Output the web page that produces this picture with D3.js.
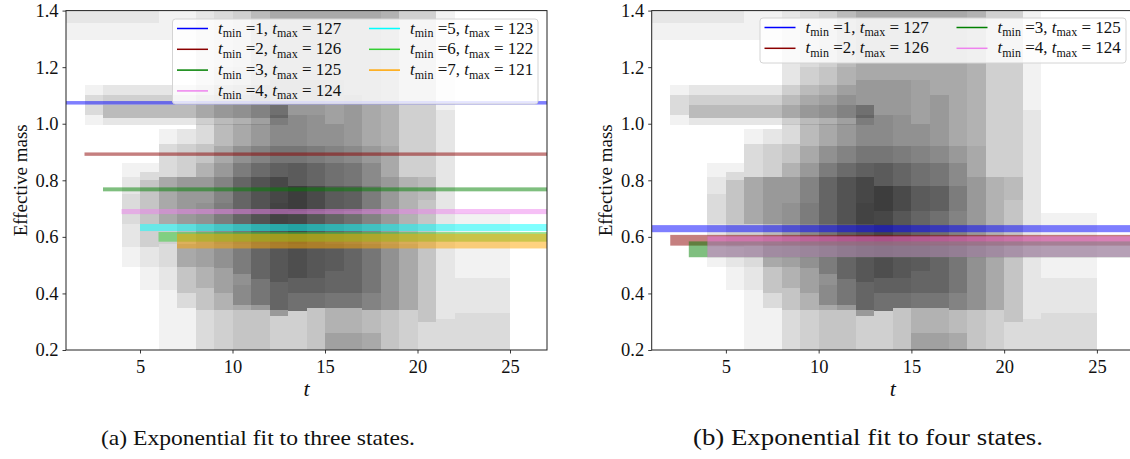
<!DOCTYPE html>
<html>
<head>
<meta charset="utf-8">
<script src="https://cdn.jsdelivr.net/npm/d3@7"></script>
<style>
  body { margin: 0; background: #fff; }
  svg { display: block; }
  text { font-family: "Liberation Serif", "DejaVu Serif", serif; fill: #111; }
</style>
</head>
<body>
<svg id="chart" width="1130" height="459"></svg>
<script>
// ---- axes ----
const tDomain = [1, 27];
const massDomain = [0.2, 1.4];
const xTickValues = [5, 10, 15, 20, 25];
const yTickValues = [0.2, 0.4, 0.6, 0.8, 1.0, 1.2, 1.4];

// ---- effective-mass bands: [t, lower, upper, number of overlapping samples] ----
const earlyStrip = [
  [1, 1.297, 1.356, 1], [1, 1.356, 1.42, 2],
  [2, 1.297, 1.356, 1], [2, 1.356, 1.42, 2],
  [3, 1.297, 1.356, 1], [3, 1.356, 1.42, 2],
  [4, 1.297, 1.356, 1], [4, 1.356, 1.42, 2],
  [5, 1.297, 1.356, 1], [5, 1.356, 1.42, 2],
  [6, 1.297, 1.42, 1], [7, 1.297, 1.42, 1]
];
const excitedUpper = [
  [2, 0.997, 1.03, 1], [2, 1.03, 1.1, 3], [2, 1.1, 1.136, 1],
  [3, 1.1, 1.136, 2], [3, 1.067, 1.1, 4], [4, 1.1, 1.136, 2], [4, 1.067, 1.1, 4],
  [5, 1.1, 1.136, 2], [5, 1.067, 1.1, 4], [6, 1.1, 1.136, 2], [6, 1.067, 1.1, 4],
  [7, 1.1, 1.136, 2], [7, 1.067, 1.1, 4], [8, 1.1, 1.136, 2], [8, 1.067, 1.1, 4],
  [9, 1.1, 1.136, 2], [9, 1.067, 1.1, 4], [10, 1.1, 1.136, 2], [10, 1.067, 1.1, 4],
  [11, 1.1, 1.136, 2], [11, 1.067, 1.1, 4]
];
const excitedLower = [
  [3, 1.02, 1.067, 6], [3, 0.997, 1.02, 2], [4, 1.02, 1.067, 6], [4, 0.997, 1.02, 2],
  [5, 1.02, 1.067, 6], [5, 0.997, 1.02, 2], [6, 1.02, 1.067, 6], [6, 0.997, 1.02, 2],
  [7, 1.02, 1.067, 6], [7, 0.997, 1.02, 2], [8, 1.02, 1.067, 6], [8, 0.997, 1.02, 2],
  [9, 1.02, 1.067, 6], [9, 0.997, 1.02, 2], [10, 1.02, 1.067, 6], [10, 0.997, 1.02, 2],
  [11, 1.02, 1.067, 6], [11, 0.997, 1.02, 2], [12, 1.02, 1.067, 6], [12, 0.997, 1.02, 2]
];
const plateauCells = [
  [4, 0.494, 0.565, 1], [4, 0.565, 0.645, 2], [4, 0.645, 0.75, 3], [4, 0.75, 0.81, 2], [4, 0.81, 0.86, 1],
  [5, 0.411, 0.494, 1], [5, 0.494, 0.565, 2], [5, 0.565, 0.645, 4], [5, 0.645, 0.80, 5], [5, 0.80, 0.83, 3], [5, 0.83, 0.86, 1],
  [6, 0.20, 0.411, 1], [6, 0.411, 0.494, 2], [6, 0.494, 0.574, 3], [6, 0.574, 0.645, 4], [6, 0.645, 0.81, 8], [6, 0.81, 0.93, 3], [6, 0.93, 0.98, 1],
  [7, 0.20, 0.35, 1], [7, 0.35, 0.40, 3], [7, 0.40, 0.494, 5], [7, 0.494, 0.574, 8], [7, 0.574, 0.645, 6], [7, 0.645, 0.81, 10], [7, 0.81, 0.93, 4], [7, 0.93, 0.98, 2],
  [8, 0.20, 0.34, 3], [8, 0.34, 0.42, 5], [8, 0.42, 0.494, 7], [8, 0.494, 0.574, 9], [8, 0.574, 0.645, 9], [8, 0.645, 0.72, 11], [8, 0.72, 0.81, 10], [8, 0.81, 0.86, 7], [8, 0.86, 0.93, 5], [8, 0.93, 1.0, 3], [8, 1.0, 1.42, 2],
  [9, 0.20, 0.34, 4], [9, 0.34, 0.40, 7], [9, 0.40, 0.49, 9], [9, 0.49, 0.574, 11], [9, 0.574, 0.645, 12], [9, 0.645, 0.72, 14], [9, 0.72, 0.81, 13], [9, 0.81, 0.86, 10], [9, 0.86, 0.92, 8], [9, 0.92, 1.0, 6], [9, 1.0, 1.2, 4], [9, 1.2, 1.42, 3],
  [10, 0.20, 0.34, 5], [10, 0.34, 0.36, 8], [10, 0.36, 0.43, 12], [10, 0.43, 0.47, 11], [10, 0.47, 0.574, 14], [10, 0.574, 0.645, 15], [10, 0.645, 0.72, 18], [10, 0.72, 0.81, 18], [10, 0.81, 0.86, 14], [10, 0.86, 0.92, 11], [10, 0.92, 1.0, 8], [10, 1.0, 1.2, 5], [10, 1.2, 1.42, 4],
  [11, 0.20, 0.34, 5], [11, 0.34, 0.36, 10], [11, 0.36, 0.45, 15], [11, 0.45, 0.574, 18], [11, 0.574, 0.645, 19], [11, 0.645, 0.72, 22], [11, 0.72, 0.81, 22], [11, 0.81, 0.86, 17], [11, 0.86, 0.92, 13], [11, 0.92, 1.0, 10], [11, 1.0, 1.2, 7], [11, 1.2, 1.42, 6],
  [12, 0.20, 0.32, 4], [12, 0.32, 0.34, 10], [12, 0.34, 0.44, 18], [12, 0.44, 0.574, 21], [12, 0.574, 0.645, 22], [12, 0.645, 0.72, 26], [12, 0.72, 0.81, 25], [12, 0.81, 0.86, 19], [12, 0.86, 0.92, 15], [12, 0.92, 1.03, 12], [12, 1.03, 1.155, 10], [12, 1.155, 1.42, 8],
  [13, 0.20, 0.338, 4], [13, 0.338, 0.40, 16], [13, 0.40, 0.456, 19], [13, 0.456, 0.574, 23], [13, 0.574, 0.69, 25], [13, 0.69, 0.78, 28], [13, 0.78, 0.86, 20], [13, 0.86, 0.92, 15], [13, 0.92, 1.03, 12], [13, 1.03, 1.155, 10], [13, 1.155, 1.42, 8],
  [14, 0.20, 0.35, 5], [14, 0.35, 0.40, 16], [14, 0.40, 0.456, 19], [14, 0.456, 0.574, 21], [14, 0.574, 0.69, 21], [14, 0.69, 0.78, 24], [14, 0.78, 0.86, 18], [14, 0.86, 0.92, 14], [14, 0.92, 1.03, 11], [14, 1.03, 1.155, 10], [14, 1.155, 1.42, 8],
  [15, 0.20, 0.26, 9], [15, 0.26, 0.35, 7], [15, 0.35, 0.40, 15], [15, 0.40, 0.48, 18], [15, 0.48, 0.574, 20], [15, 0.574, 0.69, 18], [15, 0.69, 0.78, 20], [15, 0.78, 0.86, 16], [15, 0.86, 0.92, 13], [15, 0.92, 1.0, 11], [15, 1.0, 1.155, 9], [15, 1.155, 1.42, 8],
  [16, 0.20, 0.26, 9], [16, 0.26, 0.35, 7], [16, 0.35, 0.40, 15], [16, 0.40, 0.574, 18], [16, 0.574, 0.69, 16], [16, 0.69, 0.78, 19], [16, 0.78, 0.86, 15], [16, 0.86, 0.92, 12], [16, 0.92, 1.1, 10], [16, 1.1, 1.42, 8],
  [17, 0.20, 0.26, 8], [17, 0.26, 0.34, 6], [17, 0.34, 0.40, 13], [17, 0.40, 0.574, 15], [17, 0.574, 0.69, 13], [17, 0.69, 0.78, 14], [17, 0.78, 0.86, 12], [17, 0.86, 0.92, 10], [17, 0.92, 1.42, 8],
  [18, 0.20, 0.34, 5], [18, 0.34, 0.574, 11], [18, 0.574, 0.69, 10], [18, 0.69, 0.81, 10], [18, 0.81, 0.92, 8], [18, 0.92, 1.42, 7],
  [19, 0.20, 0.34, 4], [19, 0.34, 0.574, 8], [19, 0.574, 0.81, 7], [19, 0.81, 1.42, 4],
  [20, 0.20, 0.30, 3], [20, 0.30, 0.574, 5], [20, 0.574, 0.73, 5], [20, 0.73, 0.81, 6], [20, 0.81, 1.42, 4],
  [21, 0.20, 0.31, 3], [21, 0.31, 0.81, 2], [21, 0.81, 1.05, 2], [21, 1.05, 1.42, 1],
  [22, 0.20, 0.33, 3], [22, 0.33, 0.456, 2], [22, 0.456, 0.685, 1],
  [23, 0.20, 0.33, 3], [23, 0.33, 0.456, 2], [23, 0.456, 0.685, 1],
  [24, 0.20, 0.33, 3], [24, 0.33, 0.456, 2], [24, 0.456, 0.685, 1]
];

// ---- fits, panel (a): three states ----
const fitTminA = [1, 2, 3, 4, 5, 6, 7];
const fitTmaxA = [127, 126, 125, 124, 123, 122, 121];
const fitMassA = [1.074, 0.8925, 0.768, 0.6895, 0.633, 0.600, 0.585];
const fitErrA  = [0.0062, 0.006, 0.007, 0.009, 0.0124, 0.017, 0.026];
// ---- fits, panel (b): four states ----
const fitTminB = [1, 2, 3, 4];
const fitTmaxB = [127, 126, 125, 124];
const fitMassB = [0.629, 0.588, 0.556, 0.565];
const fitErrB  = [0.0125, 0.019, 0.028, 0.037];

const fitColors = ["#0000ff", "#8b0000", "#008000", "#ee82ee", "#00ffff", "#32cd32", "#ffa500"];
const captions = ["(a) Exponential fit to three states.", "(b) Exponential fit to four states."];

const svg = d3.select("#chart");

function drawPanel(id, frame, fits, legendFrame, caption) {
  const x = d3.scaleLinear().domain(tDomain).range([frame.left, frame.right]);
  const y = d3.scaleLinear().domain(massDomain).range([frame.bottom, frame.top]);
  const g = svg.append("g");

  g.append("clipPath").attr("id", "clip-" + id)
    .append("rect")
    .attr("x", frame.left).attr("y", frame.top)
    .attr("width", frame.right - frame.left).attr("height", frame.bottom - frame.top);

  const plot = g.append("g").attr("clip-path", `url(#clip-${id})`);

  // translucent effective-mass samples
  const cells = [].concat(earlyStrip, excitedUpper, excitedLower, plateauCells);
  plot.append("g").attr("shape-rendering", "crispEdges")
    .selectAll("rect").data(cells).join("rect")
    .attr("x", d => x(d[0]))
    .attr("width", d => x(d[0] + 1) - x(d[0]))
    .attr("y", d => y(d[2]))
    .attr("height", d => y(d[1]) - y(d[2]))
    .attr("fill", "#000")
    .attr("fill-opacity", d => 1 - Math.pow(0.95, d[3]));

  // fit bands, mass +/- error from t_min to t_max
  const fitRows = fits.tmin.map((t, i) => ({
    tmin: t, tmax: fits.tmax[i], m: fits.mass[i], e: fits.err[i], c: fitColors[i]
  }));
  plot.append("g").selectAll("rect").data(fitRows).join("rect")
    .attr("x", d => x(d.tmin))
    .attr("width", d => x(d.tmax) - x(d.tmin))
    .attr("y", d => y(d.m + d.e))
    .attr("height", d => y(d.m - d.e) - y(d.m + d.e))
    .attr("fill", d => d.c)
    .attr("fill-opacity", 0.5);

  // axes
  const xAxis = d3.axisBottom(x).tickValues(xTickValues).tickSize(3.5).tickPadding(6).tickFormat(d3.format("d"));
  const yAxis = d3.axisLeft(y).tickValues(yTickValues).tickSize(3.5).tickPadding(4).tickFormat(d3.format(".1f"));
  const gx = g.append("g").attr("transform", `translate(0,${frame.bottom})`).call(xAxis);
  const gy = g.append("g").attr("transform", `translate(${frame.left},0)`).call(yAxis);
  [gx, gy].forEach(a => {
    a.select(".domain").remove();
    a.selectAll(".tick line").attr("stroke", "#222").attr("stroke-width", 0.9);
    a.selectAll(".tick text").attr("font-size", 18.5).attr("fill", "#111")
      .attr("font-family", '"Liberation Serif", serif');
  });

  // frame
  g.append("rect")
    .attr("x", frame.left).attr("y", frame.top)
    .attr("width", frame.right - frame.left).attr("height", frame.bottom - frame.top)
    .attr("fill", "none").attr("stroke", "#222").attr("stroke-width", 1);

  // axis labels
  g.append("text")
    .attr("x", x(14)).attr("y", 396)
    .attr("text-anchor", "middle").attr("font-size", 22).attr("font-style", "italic")
    .text("t");
  g.append("text")
    .attr("transform", `translate(${frame.left - 39.5},${(frame.top + frame.bottom) / 2}) rotate(-90)`)
    .attr("text-anchor", "middle").attr("font-size", 19)
    .text("Effective mass");

  // legend
  const lg = g.append("g").attr("transform", `translate(${legendFrame.x},${legendFrame.y})`);
  lg.append("rect")
    .attr("width", legendFrame.w).attr("height", legendFrame.h)
    .attr("rx", 3).attr("fill", "#fff").attr("fill-opacity", 0.8)
    .attr("stroke", "#d4d4d4").attr("stroke-width", 1);
  fitRows.forEach((d, i) => {
    const col = Math.floor(i / legendFrame.rows);
    const row = i % legendFrame.rows;
    const cy = 9.5 + row * 20.8;
    const cx = 4.5 + col * 192;
    lg.append("line").attr("x1", cx).attr("x2", cx + 31).attr("y1", cy).attr("y2", cy)
      .attr("stroke", d.c).attr("stroke-width", 1.5);
    const tx = lg.append("text").attr("x", cx + 41).attr("y", cy + 5).attr("font-size", 17);
    tx.append("tspan").attr("font-style", "italic").text("t");
    tx.append("tspan").attr("dy", 3.5).attr("font-size", 12).text("min");
    tx.append("tspan").attr("dy", -3.5).text(` =${d.tmin}, `);
    tx.append("tspan").attr("font-style", "italic").text("t");
    tx.append("tspan").attr("dy", 3.5).attr("font-size", 12).text("max");
    tx.append("tspan").attr("dy", -3.5).text(` = ${d.tmax}`);
  });

  // caption
  svg.append("text")
    .attr("x", caption.x).attr("y", 445)
    .attr("text-anchor", "middle").attr("font-size", caption.size)
    .attr("textLength", caption.w).attr("lengthAdjust", "spacingAndGlyphs")
    .text(caption.text);
}

drawPanel("a",
  { left: 66, right: 547, top: 10.6, bottom: 350 },
  { tmin: fitTminA, tmax: fitTmaxA, mass: fitMassA, err: fitErrA },
  { x: 172.5, y: 19, w: 365.5, h: 85, rows: 4 },
  { x: 258, w: 314, size: 22, text: captions[0] });

drawPanel("b",
  { left: 651.7, right: 1134, top: 10.6, bottom: 350 },
  { tmin: fitTminB, tmax: fitTmaxB, mass: fitMassB, err: fitErrB },
  { x: 760, y: 18, w: 366, h: 45, rows: 2 },
  { x: 868, w: 350, size: 23.5, text: captions[1] });
</script>
</body>
</html>
